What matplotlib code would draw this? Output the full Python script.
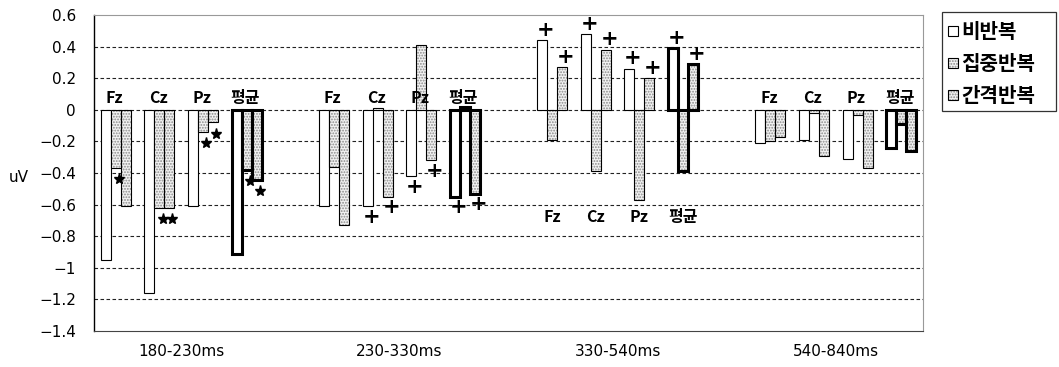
import matplotlib
matplotlib.use("Agg")
import matplotlib.pyplot as plt
import matplotlib.transforms as mtransforms
import numpy as np
from matplotlib.patches import Rectangle

plt.rcParams['font.family'] = ['Noto Sans CJK KR', 'DejaVu Sans']
plt.rcParams['hatch.linewidth'] = 0.9

# Time windows, recording sites and conditions
windows = ['180-230ms', '230-330ms', '330-540ms', '540-840ms']
sites = ['Fz', 'Cz', 'Pz', '평균']
conditions = ['비반복', '집중반복', '간격반복']

# Mean amplitude (uV), ordered window by window, site by site
non_rep = [-0.95, -1.16, -0.61, -0.91,
           -0.61, -0.61, -0.42, -0.55,
           0.44, 0.48, 0.26, 0.39,
           -0.21, -0.19, -0.31, -0.24]
massed = [-0.37, -0.62, -0.14, -0.38,
          -0.36, 0.01, 0.41, 0.02,
          -0.19, -0.39, -0.57, -0.39,
          -0.20, -0.02, -0.03, -0.09]
spaced = [-0.61, -0.62, -0.08, -0.445,
          -0.73, -0.55, -0.32, -0.53,
          0.27, 0.38, 0.20, 0.29,
          -0.17, -0.29, -0.37, -0.26]

# Significance marks: (window, site, condition, symbol)
marks = [(0, 0, 1, '*'), (0, 1, 1, '*'), (0, 1, 2, '*'),
         (0, 2, 1, '*'), (0, 2, 2, '*'), (0, 3, 1, '*'), (0, 3, 2, '*'),
         (1, 1, 0, '+'), (1, 1, 2, '+'), (1, 2, 0, '+'), (1, 2, 2, '+'),
         (1, 3, 0, '+'), (1, 3, 2, '+'),
         (2, 0, 0, '+'), (2, 0, 2, '+'), (2, 1, 0, '+'), (2, 1, 2, '+'),
         (2, 2, 0, '+'), (2, 2, 2, '+'), (2, 3, 0, '+'), (2, 3, 2, '+')]

series = [non_rep, massed, spaced]

fig = plt.figure(figsize=(10.59, 3.67), dpi=100)
ax = fig.add_axes([94 / 1059, 1 - 331 / 367, 829 / 1059, 316 / 367])

ns = len(sites)
slot = ns + 1
bw = 0.229
cat_x = np.array([w * slot + s for w in range(len(windows)) for s in range(ns)], dtype=float)

ax.set_xlim(-0.5, len(windows) * slot - 1.5)
ax.set_ylim(-1.4, 0.6)

# Dashed grid
for yv in np.arange(-1.2, 0.6, 0.2):
    ax.axhline(yv, color='#222222', lw=0.8, ls=(0, (3.2, 2.2)), zorder=0)

for k, vals in enumerate(series):
    xs = cat_x + (k - 1) * bw
    vals = np.array(vals)
    lw = np.where(np.arange(len(vals)) % ns == ns - 1, 2.2, 0.8)
    if k == 0:
        ax.bar(xs, vals, width=bw, color='white', edgecolor='black',
               linewidth=lw, zorder=2)
    else:
        ax.bar(xs, vals, width=bw, color='#f2f2f2', edgecolor='#8a8a8a',
               linewidth=0, hatch='......', zorder=2)
        ax.bar(xs, vals, width=bw, fill=False, edgecolor='black',
               linewidth=lw, zorder=3)

# Site labels
for w in range(len(windows)):
    for s, name in enumerate(sites):
        x = w * slot + s
        if w == 2:
            ax.text(x, -0.68, name, ha='center', va='center', fontsize=11.5,
                    fontweight='bold', zorder=4)
        else:
            ax.annotate(name, (x, 0), xytext=(-1, 3), textcoords='offset points',
                        ha='center', va='bottom', fontsize=11.5,
                        fontweight='bold', zorder=4)

# Significance symbols, placed just beyond the end of their bar
for w, s, k, sym in marks:
    idx = w * ns + s
    v = series[k][idx]
    x = cat_x[idx] + (k - 1) * bw
    dy = 7.5 if v > 0 else -7.5
    if sym == '*':
        tr = mtransforms.offset_copy(ax.transData, fig=fig, x=2.2, y=dy - 0.5,
                                     units='points')
        ax.plot([x], [v], marker='*', markersize=8, color='black',
                linestyle='none', transform=tr, zorder=5, clip_on=False)
    else:
        ax.annotate(sym, (x, v), xytext=(2.5, dy), textcoords='offset points',
                    ha='center', va='center', fontsize=15, fontweight='bold',
                    family='DejaVu Sans', zorder=5)

# Axes styling
ticks = np.round(np.arange(-1.4, 0.61, 0.2), 1)
ax.set_yticks(ticks)
ax.set_yticklabels(['0' if abs(t) < 1e-9 else f'{t:g}'.replace('-', '−')
                    for t in ticks], family='DejaVu Sans', fontsize=11)
ax.tick_params(axis='y', length=0, pad=13)
ax.set_xticks([w * slot + 1.5 for w in range(len(windows))])
ax.set_xticklabels(windows, fontsize=11, family='DejaVu Sans')
ax.tick_params(axis='x', length=0, pad=9)

ax.spines['left'].set_color('black')
ax.spines['left'].set_linewidth(1.0)
ax.spines['bottom'].set_color('#444444')
ax.spines['top'].set_color('#999999')
ax.spines['right'].set_color('#999999')
for sp in ax.spines.values():
    sp.set_zorder(6)

fig.text(9 / 1059, 1 - 177 / 367, 'uV', ha='left', va='center', fontsize=11,
         family='DejaVu Sans')

# Legend box
fig.patches.append(Rectangle((942 / 1059, 1 - 111 / 367), 114 / 1059, 99 / 367,
                             transform=fig.transFigure, fill=False,
                             edgecolor='#333333', lw=0.9))
for i, name in enumerate(conditions):
    yc = 31 + 32 * i
    box = (948 / 1059, 1 - (yc + 5) / 367)
    if i == 0:
        fig.patches.append(Rectangle(box, 10 / 1059, 10 / 367,
                                     transform=fig.transFigure, facecolor='white',
                                     edgecolor='black', lw=0.8))
    else:
        fig.patches.append(Rectangle(box, 10 / 1059, 10 / 367,
                                     transform=fig.transFigure, facecolor='#f2f2f2',
                                     edgecolor='#8a8a8a', lw=0, hatch='......'))
        fig.patches.append(Rectangle(box, 10 / 1059, 10 / 367,
                                     transform=fig.transFigure, fill=False,
                                     edgecolor='black', lw=0.8))
    fig.text(961 / 1059, 1 - yc / 367, name, ha='left', va='center',
             fontsize=14.5, fontweight='bold')

fig.savefig('out.png', dpi=100)
